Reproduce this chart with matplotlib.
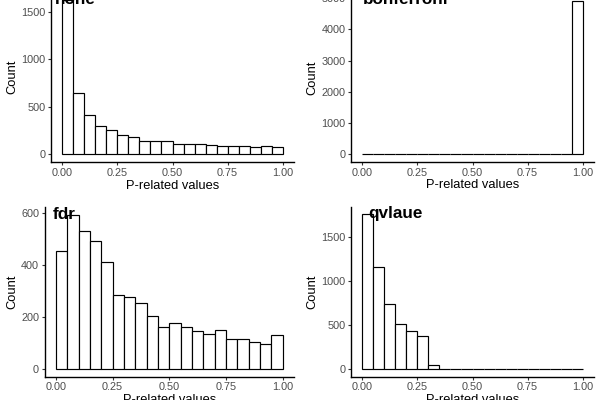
import numpy as np
import matplotlib
matplotlib.use("Agg")
from matplotlib import pyplot as plt
from matplotlib import transforms

plt.rcParams['font.family'] = ['Liberation Sans', 'DejaVu Sans']

# histogram counts, 20 bins of width 0.05 over [0, 1]
bin_edges = np.linspace(0, 1, 21)
none_counts = [1630, 641, 415, 296, 261, 208, 180, 144, 144, 144,
               106, 113, 113, 95, 88, 88, 85, 77, 92, 81]
bonf_counts = [22, 4, 3, 3, 8, 3, 3, 2, 3, 2,
               2, 3, 2, 2, 3, 2, 2, 3, 2, 4920]
fdr_counts = [455, 595, 532, 494, 414, 287, 276, 256, 205, 163,
              176, 160, 145, 135, 150, 117, 114, 105, 95, 132]
qval_counts = [1761, 1159, 735, 511, 436, 375, 45, 0, 0, 0,
               0, 0, 0, 0, 0, 0, 0, 0, 0, 0]

titles = ['none', 'bonferroni', 'fdr', 'qvlaue']
yticks = [[0, 500, 1000, 1500],
          [0, 1000, 2000, 3000, 4000, 5000],
          [0, 200, 400, 600],
          [0, 500, 1000, 1500]]
xticks = [0, 0.25, 0.5, 0.75, 1.0]
xticklabels = ['0.00', '0.25', '0.50', '0.75', '1.00']

W, H = 600, 400
fig = plt.figure(figsize=(6, 4), dpi=100)

# panel geometry in pixels: (x of 0, x of 1, y of count 0, px per count)
panels = [
    (62.3, 282.7, 154.3, 0.09487),
    (362.3, 582.7, 154.3, 0.03125),
    (56.0, 282.7, 369.0, 0.2595),
    (362.3, 582.7, 369.0, 0.0878),
]
# title positions (x, baseline y) in pixels
title_pos = [(55, 4), (363, 4), (53, 219), (368, 218)]
ylabel_x = [12, 312, 12, 312]

all_counts = [none_counts, bonf_counts, fdr_counts, qval_counts]

for i in range(4):
    counts = all_counts[i]
    x0, x1, y0, s = panels[i]
    cmax = max(counts)
    unit = x1 - x0
    left = x0 - 0.05 * unit
    right = x1 + 0.05 * unit
    bottom = y0 + 0.05 * cmax * s
    top = y0 - 1.05 * cmax * s
    ax = fig.add_axes([left / W, 1 - bottom / H, (right - left) / W, (bottom - top) / H])
    ax.bar(bin_edges[:-1], counts, width=0.05, align='edge',
           facecolor='white', edgecolor='black', linewidth=0.85)
    ax.set_xlim(-0.05, 1.05)
    ax.set_ylim(-0.05 * cmax, 1.05 * cmax)
    ax.set_xticks(xticks)
    ax.set_xticklabels(xticklabels)
    ax.set_yticks(yticks[i])
    for sp in ['top', 'right']:
        ax.spines[sp].set_visible(False)
    for sp in ['left', 'bottom']:
        ax.spines[sp].set_linewidth(1.0)
        ax.spines[sp].set_color('black')
    ax.tick_params(axis='both', length=2.5, width=0.8, color='#333333',
                   labelsize=7.8, labelcolor='#4D4D4D', pad=1.5)
    ax.set_xlabel('P-related values', fontsize=9.3, color='black')
    ax.set_ylabel('Count', fontsize=9.3, color='black')
    tr = transforms.blended_transform_factory(fig.transFigure, ax.transAxes)
    ax.yaxis.set_label_coords(ylabel_x[i] / W, 0.5, transform=tr)
    ax.yaxis.label.set_va('center')
    trx = transforms.blended_transform_factory(ax.transAxes, fig.transFigure)
    ax.xaxis.set_label_coords(0.5, 1 - (bottom + 17.5) / H, transform=trx)
    tx, ty = title_pos[i]
    fig.text(tx / W, 1 - ty / H, titles[i], fontsize=12.3, fontweight='bold',
             ha='left', va='baseline')

fig.savefig('out.png', dpi=100)
